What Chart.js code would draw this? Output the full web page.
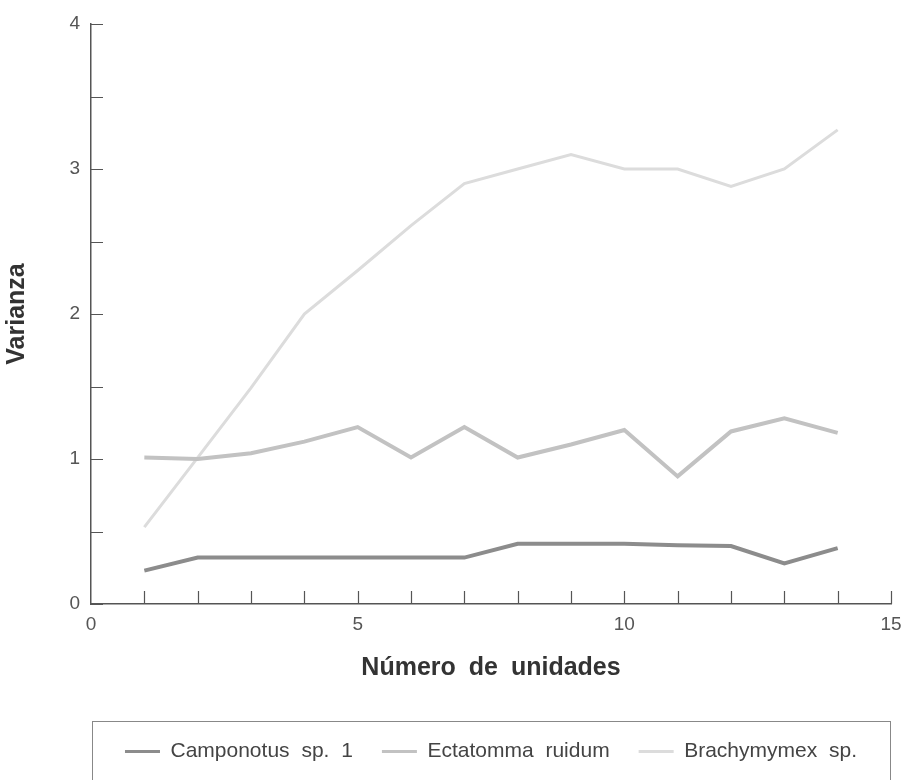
<!DOCTYPE html>
<html>
<head>
<meta charset="utf-8">
<script src="https://cdn.jsdelivr.net/npm/chart.js@4/dist/chart.umd.min.js"></script>
<style>
  html, body { margin: 0; padding: 0; background: #fff; }
  #wrap { width: 904px; height: 780px; }
</style>
</head>
<body>
<div id="wrap"><canvas id="chart" width="904" height="780"></canvas></div>
<script>
// values
var unidades = [1, 2, 3, 4, 5, 6, 7, 8, 9, 10, 11, 12, 13, 14];
var camponotus = [0.23, 0.32, 0.32, 0.32, 0.32, 0.32, 0.32, 0.415, 0.415, 0.415, 0.405, 0.40, 0.28, 0.385];
var ectatomma = [1.01, 1.0, 1.04, 1.12, 1.22, 1.01, 1.22, 1.01, 1.10, 1.20, 0.88, 1.19, 1.28, 1.18];
var brachymyrmex = [0.53, 1.01, 1.49, 2.0, 2.30, 2.61, 2.90, 3.0, 3.10, 3.0, 3.0, 2.88, 3.0, 3.27];
var seriesNames = ["Camponotus sp. 1", "Ectatomma ruidum", "Brachymymex sp."];

function points(vals) {
    return vals.map(function (v, i) { return { x: unidades[i], y: v }; });
}

var fontFamily = "'Liberation Sans', Arial, Helvetica, sans-serif";

// the original text is set with wide word gaps
var wideWords = {
    id: 'wideWords',
    beforeLayout: function (chart) { chart.ctx.wordSpacing = '6px'; },
    beforeDraw: function (chart) { chart.ctx.wordSpacing = '6px'; }
};

// ticks drawn inward from the axes, as in the original
var innerTicks = {
    id: 'innerTicks',
    afterDraw: function (chart) {
        var ctx = chart.ctx;
        var area = chart.chartArea;
        var xs = chart.scales.x, ys = chart.scales.y;
        ctx.save();
        ctx.strokeStyle = '#555';
        ctx.lineWidth = 1.2;
        ctx.beginPath();
        ys.ticks.forEach(function (t) {
            var py = Math.round(ys.getPixelForValue(t.value)) + 0.5;
            ctx.moveTo(area.left, py);
            ctx.lineTo(area.left + 12, py);
        });
        xs.ticks.forEach(function (t) {
            if (t.value === 0) return;
            var px = Math.round(xs.getPixelForValue(t.value)) + 0.5;
            ctx.moveTo(px, area.bottom);
            ctx.lineTo(px, area.bottom - 13);
        });
        ctx.stroke();
        ctx.restore();
    }
};

// frame around the legend
var legendFrame = {
    id: 'legendFrame',
    afterDraw: function (chart) {
        var ctx = chart.ctx;
        var lg = chart.legend;
        ctx.save();
        ctx.strokeStyle = '#888';
        ctx.lineWidth = 1;
        ctx.strokeRect(chart.chartArea.left + 1.5, Math.round(lg.top + 9) + 0.5,
            chart.chartArea.right - chart.chartArea.left - 2, chart.height);
        ctx.restore();
    }
};

window.onload = function () {
    var ctx = document.getElementById("chart").getContext("2d");

    new Chart(ctx, {
        type: "line",
        data: {
            datasets: [
                {
                    label: seriesNames[0],
                    data: points(camponotus),
                    borderColor: '#8c8c8c',
                    backgroundColor: '#8c8c8c',
                    borderWidth: 4
                },
                {
                    label: seriesNames[1],
                    data: points(ectatomma),
                    borderColor: '#c2c2c2',
                    backgroundColor: '#c2c2c2',
                    borderWidth: 4
                },
                {
                    label: seriesNames[2],
                    data: points(brachymyrmex),
                    borderColor: '#dcdcdc',
                    backgroundColor: '#dcdcdc',
                    borderWidth: 3
                }
            ]
        },
        options: {
            responsive: false,
            animation: false,
            layout: {
                padding: { top: 24, right: 0, bottom: 8, left: 0 }
            },
            elements: {
                point: { radius: 0 },
                line: { tension: 0, fill: false }
            },
            scales: {
                x: {
                    type: "linear",
                    min: 0,
                    max: 15,
                    afterFit: function (s) {
                        s.height = 108;
                        s.paddingRight = 13;
                    },
                    ticks: {
                        stepSize: 1,
                        padding: 9,
                        maxRotation: 0,
                        autoSkip: false,
                        color: '#555',
                        font: { family: fontFamily, size: 19 },
                        callback: function (v) { return v % 5 === 0 ? v : ''; }
                    },
                    grid: { drawOnChartArea: false, drawTicks: false },
                    border: { color: '#555', width: 1.5 },
                    title: {
                        display: true,
                        text: "Número de unidades",
                        color: '#333',
                        padding: { top: 29, bottom: 29 },
                        font: { family: fontFamily, size: 25, weight: 'bold' }
                    }
                },
                y: {
                    type: "linear",
                    min: 0,
                    max: 4,
                    afterFit: function (s) { s.width = 91; },
                    ticks: {
                        stepSize: 0.5,
                        padding: 11,
                        autoSkip: false,
                        color: '#555',
                        font: { family: fontFamily, size: 19 },
                        callback: function (v) { return Number.isInteger(v) ? v : ''; }
                    },
                    grid: { drawOnChartArea: false, drawTicks: false },
                    border: { color: '#555', width: 1.5 },
                    title: {
                        display: true,
                        text: "Varianza",
                        color: '#333',
                        padding: { top: 2, bottom: 2 },
                        font: { family: fontFamily, size: 25, weight: 'bold' }
                    }
                }
            },
            plugins: {
                tooltip: { enabled: false },
                legend: {
                    position: 'bottom',
                    fullSize: false,
                    labels: {
                        boxWidth: 35,
                        boxHeight: 3,
                        padding: 29,
                        color: '#444',
                        font: { family: fontFamily, size: 21 },
                        generateLabels: function (chart) {
                            var items = Chart.defaults.plugins.legend.labels.generateLabels(chart);
                            items.forEach(function (it) { it.lineWidth = 0; });
                            return items;
                        }
                    }
                }
            }
        },
        plugins: [wideWords, innerTicks, legendFrame]
    });
};
</script>
</body>
</html>
